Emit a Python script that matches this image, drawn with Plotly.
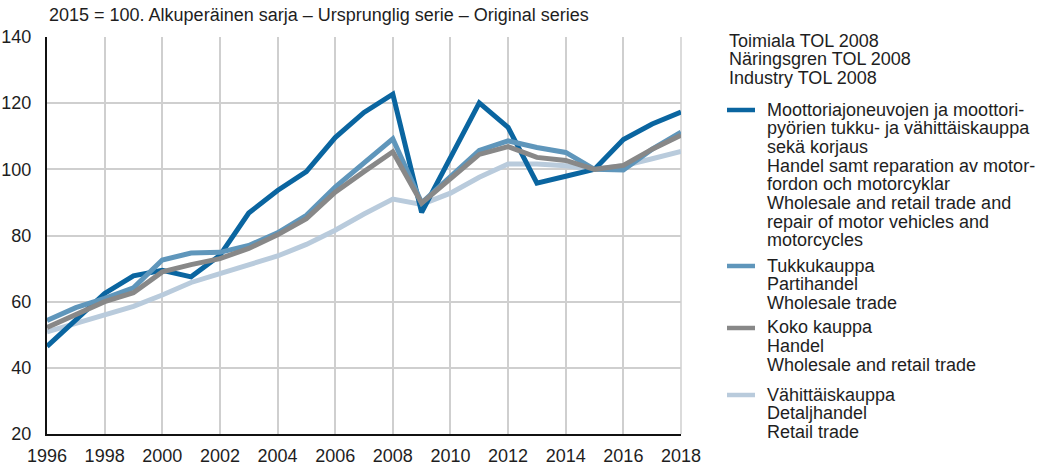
import plotly.graph_objects as go

# --- data -------------------------------------------------------------
years = list(range(1996, 2019))

motor_vehicles = [46.5, 54.5, 62.5, 67.8, 69.5, 67.5, 74.0, 86.8, 93.6, 99.3,
                  109.6, 117.2, 122.7, 87.0, 103.5, 120.1, 112.7, 95.8, 97.9,
                  100.0, 109.0, 113.7, 117.3]
wholesale = [54.3, 58.2, 61.0, 64.2, 72.6, 74.7, 74.9, 77.0, 80.8, 86.1,
             94.6, 102.0, 109.2, 89.9, 98.0, 105.7, 108.6, 106.6, 105.1,
             100.0, 99.8, 106.1, 111.2]
total_trade = [52.2, 56.2, 60.0, 62.7, 69.0, 71.2, 73.0, 76.1, 80.2, 85.1,
               93.1, 99.3, 105.3, 89.8, 97.2, 104.5, 106.9, 103.6, 102.7,
               100.0, 101.2, 106.1, 110.3]
retail = [50.9, 53.4, 56.2, 58.6, 62.0, 65.8, 68.5, 71.2, 73.8, 77.3,
          81.6, 86.5, 91.0, 89.4, 92.8, 97.6, 101.6, 101.6, 101.1,
          100.0, 101.1, 103.2, 105.4]

legend_title = ["Toimiala TOL 2008", "Näringsgren TOL 2008", "Industry TOL 2008"]
labels_motor = ["Moottoriajoneuvojen ja moottori-",
                "pyörien tukku- ja vähittäiskauppa",
                "sekä korjaus",
                "Handel samt reparation av motor-",
                "fordon och motorcyklar",
                "Wholesale and retail trade and",
                "repair of motor vehicles and",
                "motorcycles"]
labels_wholesale = ["Tukkukauppa", "Partihandel", "Wholesale trade"]
labels_total = ["Koko kauppa", "Handel", "Wholesale and retail trade"]
labels_retail = ["Vähittäiskauppa", "Detaljhandel", "Retail trade"]

subtitle = "2015 = 100. Alkuperäinen sarja – Ursprunglig serie – Original series"

# --- styling ----------------------------------------------------------
C_MOTOR = "#0a65a0"
C_WHOLE = "#5f96bb"
C_TOTAL = "#888888"
C_RETAIL = "#b9cbdc"
TEXT = "#1e1e1e"
FONT = "Liberation Sans, Arial, sans-serif"
FS = 18

W, H = 1048, 465
ML, MR, MT, MB = 47, 367, 37, 31
PW, PH = W - ML - MR, H - MT - MB


def px(x):
    return (x - ML) / PW


def py(y):
    return (H - MB - y) / PH


fig = go.Figure()

# drawing order: retail below, total trade on top
series = [
    (retail, C_RETAIL, labels_retail),
    (motor_vehicles, C_MOTOR, labels_motor),
    (wholesale, C_WHOLE, labels_wholesale),
    (total_trade, C_TOTAL, labels_total),
]
for vals, col, lab in series:
    fig.add_trace(go.Scatter(
        x=years, y=vals, mode="lines", name=lab[0],
        line=dict(color=col, width=5), showlegend=False,
        hoverinfo="x+y",
    ))

annotations = []
shapes = []

# subtitle above the plot
annotations.append(dict(
    text=subtitle, xref="paper", yref="paper", x=0, y=py(15),
    xanchor="left", yanchor="middle", showarrow=False,
    font=dict(size=FS, color=TEXT, family=FONT),
))

# legend block on the right
LX_SW0, LX_SW1, LX_TXT = 727, 755, 765
line_step = 18.7


def add_lines(lines, x0, y0):
    for i, t in enumerate(lines):
        annotations.append(dict(
            text=t, xref="paper", yref="paper", x=px(x0), y=py(y0 + i * line_step),
            xanchor="left", yanchor="middle", showarrow=False,
            font=dict(size=FS, color=TEXT, family=FONT),
        ))


add_lines(legend_title, LX_SW0, 40.7)

legend_blocks = [
    (labels_motor, C_MOTOR, 109.5),
    (labels_wholesale, C_WHOLE, 265.5),
    (labels_total, C_TOTAL, 327.5),
    (labels_retail, C_RETAIL, 394.5),
]
for lab, col, ytop in legend_blocks:
    add_lines(lab, LX_TXT, ytop)
    shapes.append(dict(
        type="line", xref="paper", yref="paper",
        x0=px(LX_SW0), x1=px(LX_SW1), y0=py(ytop + 0.5), y1=py(ytop + 0.5),
        line=dict(color=col, width=4.5),
    ))

fig.update_layout(
    width=W, height=H,
    margin=dict(l=ML, r=MR, t=MT, b=MB, pad=0),
    paper_bgcolor="white", plot_bgcolor="white",
    font=dict(family=FONT, size=FS, color=TEXT),
    showlegend=False,
    annotations=annotations,
    shapes=shapes,
    xaxis=dict(
        range=[1996, 2018], tick0=1996, dtick=2, tickmode="linear",
        showgrid=True, gridcolor="#cfcfcf", gridwidth=1.5,
        showline=True, linecolor="#111111", linewidth=2,
        zeroline=False, ticks="", ticklabelstandoff=4, automargin=False,
        tickfont=dict(size=FS, color=TEXT, family=FONT),
    ),
    yaxis=dict(
        range=[20, 140], tick0=20, dtick=20, tickmode="linear",
        showgrid=True, gridcolor="#cfcfcf", gridwidth=1.5,
        showline=True, linecolor="#111111", linewidth=2,
        zeroline=False, ticks="", ticklabelstandoff=10, automargin=False,
        tickfont=dict(size=FS, color=TEXT, family=FONT),
    ),
)

# right-hand border of the plot at the last year
fig.add_shape(type="line", xref="paper", yref="paper", x0=1, x1=1, y0=0, y1=1,
              line=dict(color="#cfcfcf", width=1.5), layer="below")

fig.write_html("out.html")
